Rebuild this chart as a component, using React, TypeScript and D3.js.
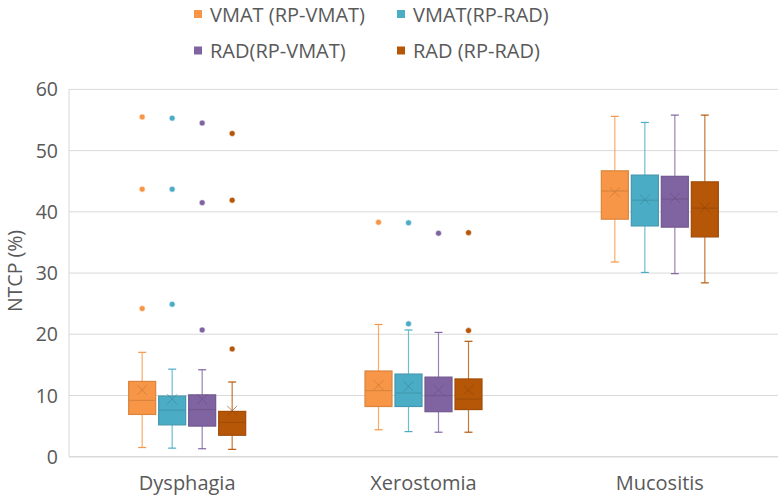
import React from "react";
import * as d3 from "d3";

const categories = ["Dysphagia", "Xerostomia", "Mucositis"];
const seriesNames = ["VMAT (RP-VMAT)", "VMAT(RP-RAD)", "RAD(RP-VMAT)", "RAD (RP-RAD)"];
const seriesColors = ["#F79646", "#4BACC6", "#8064A2", "#B65708"];
const yTicks = [0, 10, 20, 30, 40, 50, 60];

// per series, per category
const whiskerLow = [
  [1.5, 4.4, 31.8],
  [1.4, 4.1, 30.1],
  [1.3, 4.0, 29.9],
  [1.2, 4.0, 28.4],
];
const q1 = [
  [6.9, 8.2, 38.8],
  [5.2, 8.2, 37.7],
  [5.0, 7.35, 37.5],
  [3.5, 7.7, 35.9],
];
const median = [
  [9.2, 10.8, 43.4],
  [7.6, 10.4, 41.9],
  [7.7, 10.0, 42.1],
  [5.6, 9.4, 40.6],
];
const q3 = [
  [12.3, 14.0, 46.7],
  [9.9, 13.5, 46.0],
  [10.1, 13.0, 45.8],
  [7.4, 12.7, 44.9],
];
const whiskerHigh = [
  [17.05, 21.6, 55.6],
  [14.3, 20.7, 54.6],
  [14.2, 20.3, 55.8],
  [12.2, 18.85, 55.8],
];
const means = [
  [10.9, 11.7, 43.2],
  [9.4, 11.5, 42.0],
  [9.4, 10.9, 42.3],
  [7.5, 10.9, 40.7],
];
const outliers = [
  [[24.2, 43.7, 55.5], [38.3], []],
  [[24.9, 43.7, 55.3], [21.7, 38.2], []],
  [[20.7, 41.5, 54.5], [36.5], []],
  [[17.6, 41.9, 52.8], [20.6, 36.6], []],
];

const W = 782;
const H = 496;
const left = 69;
const right = 778;
const top = 89.4;
const bottom = 456.7;
const FONT = "'Open Sans', 'DejaVu Sans', sans-serif";
const TEXT = "#595959";

export default function App() {
  const x0 = d3.scaleBand<string>().domain(categories).range([left, right]).padding(0);
  const x1 = d3
    .scaleBand<string>()
    .domain(seriesNames)
    .range([0, 120])
    .paddingInner(0.1)
    .paddingOuter(0.05);
  const y = d3.scaleLinear().domain([0, 60]).range([bottom, top]);
  const bw = x1.bandwidth();

  return (
    <svg width={W} height={H} style={{ position: "absolute", left: 0, top: 0, background: "#fff" }}>
      {/* gridlines */}
      {yTicks.map((t) => (
        <line key={"g" + t} x1={left} x2={right} y1={y(t)} y2={y(t)} stroke="#D9D9D9" strokeWidth={t === 0 ? 1.5 : 1} />
      ))}
      <line x1={left} x2={left} y1={y(60)} y2={y(0)} stroke="#D9D9D9" strokeWidth={1} />
      {yTicks.map((t) => (
        <text key={"t" + t} x={58} y={y(t)} dy="0.36em" textAnchor="end" fontFamily={FONT} fontSize={19.5} fill={TEXT}>
          {t}
        </text>
      ))}
      <text
        transform={`translate(21.5,271) rotate(-90)`}
        textAnchor="middle"
        fontFamily={FONT}
        fontSize={19.5}
        fill={TEXT}
      >
        NTCP (%)
      </text>
      {categories.map((c) => (
        <text key={c} x={x0(c)! + x0.bandwidth() / 2} y={490} textAnchor="middle" fontFamily={FONT} fontSize={20} fill={TEXT}>
          {c}
        </text>
      ))}
      {/* boxes */}
      {seriesNames.map((s, si) => {
        const col = seriesColors[si];
        const dark = d3.color(col)!.darker(0.35).formatHex();
        const darker = d3.color(col)!.darker(0.7).formatHex();
        return (
          <g key={s}>
            {categories.map((c, ci) => {
              const gx = x0(c)! + x0.bandwidth() / 2 - 60;
              const bx = gx + x1(s)!;
              const cx = bx + bw / 2;
              const lo = whiskerLow[si][ci];
              const hi = whiskerHigh[si][ci];
              const a = q1[si][ci];
              const b = q3[si][ci];
              const m = median[si][ci];
              const mu = means[si][ci];
              const cap = 4;
              const mk = 5;
              return (
                <g key={c}>
                  <line x1={cx} x2={cx} y1={y(hi)} y2={y(b)} stroke={col} strokeOpacity={0.8} strokeWidth={1.2} />
                  <line x1={cx} x2={cx} y1={y(a)} y2={y(lo)} stroke={col} strokeOpacity={0.8} strokeWidth={1.2} />
                  <line x1={cx - cap} x2={cx + cap} y1={y(hi)} y2={y(hi)} stroke={col} strokeWidth={1.2} />
                  <line x1={cx - cap} x2={cx + cap} y1={y(lo)} y2={y(lo)} stroke={col} strokeWidth={1.2} />
                  <rect x={bx} y={y(b)} width={bw} height={y(a) - y(b)} fill={col} stroke={dark} strokeWidth={1.2} />
                  <line x1={bx} x2={bx + bw} y1={y(m)} y2={y(m)} stroke={dark} strokeWidth={1.2} />
                  <path
                    d={`M${cx - mk},${y(mu) - mk}L${cx + mk},${y(mu) + mk}M${cx - mk},${y(mu) + mk}L${cx + mk},${y(mu) - mk}`}
                    stroke={darker}
                    strokeOpacity={0.6}
                    strokeWidth={1}
                    fill="none"
                  />
                  {outliers[si][ci].map((o, oi) => (
                    <circle key={oi} cx={cx} cy={y(o)} r={3} fill={col} stroke="#fff" strokeWidth={0.6} />
                  ))}
                </g>
              );
            })}
          </g>
        );
      })}
      {/* legend */}
      {seriesNames.map((s, i) => {
        const lx = i % 2 === 0 ? 194 : 397;
        const base = i < 2 ? 21.5 : 58;
        return (
          <g key={"l" + s}>
            <rect x={lx} y={base - 11.5} width={8} height={8} fill={seriesColors[i]} />
            <text x={lx + 16} y={base} fontFamily={FONT} fontSize={20} fill={TEXT}>
              {s}
            </text>
          </g>
        );
      })}
    </svg>
  );
}
